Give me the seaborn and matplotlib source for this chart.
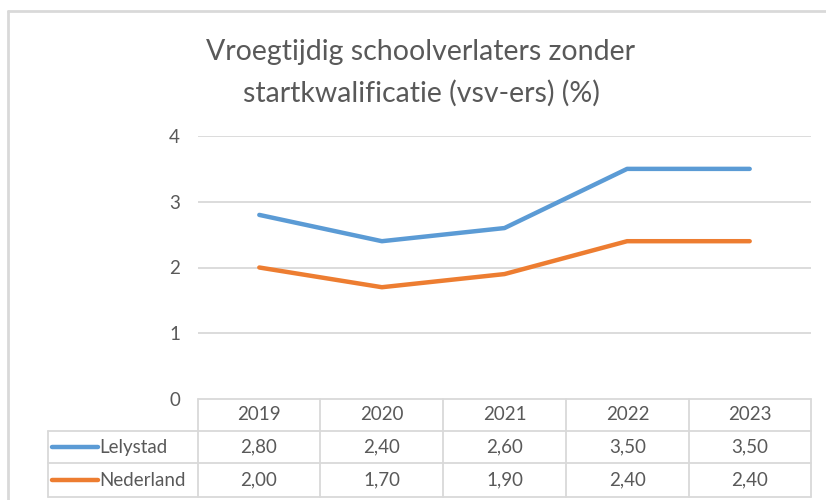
import matplotlib
matplotlib.use("Agg")
import matplotlib.pyplot as plt
from matplotlib.lines import Line2D
import seaborn as sns
import pandas as pd

years = ["2019", "2020", "2021", "2022", "2023"]
lelystad = [2.80, 2.40, 2.60, 3.50, 3.50]
nederland = [2.00, 1.70, 1.90, 2.40, 2.40]
series_names = ["Lelystad", "Nederland"]
title_lines = ["Vroegtijdig schoolverlaters zonder", "startkwalificatie (vsv-ers) (%)"]
yticks = [0, 1, 2, 3, 4]

colors = ["#5B9BD5", "#ED7D31"]
grid_c = "#D9D9D9"
text_c = "#595959"
FONT = "Lato"

sns.set_theme(style="white")
plt.rcParams["font.family"] = [FONT, "DejaVu Sans"]

W, H = 826, 500
fig = plt.figure(figsize=(W / 100, H / 100), dpi=100)

def fx(x):
    return x / W

def fy(y):
    return 1 - y / H

# plot area
x0, x1 = 198, 811
y_top, y_bot = 136, 399
ax = fig.add_axes([fx(x0), fy(y_bot), fx(x1) - fx(x0), fy(y_top) - fy(y_bot)])

df = pd.DataFrame({
    "Jaar": years * 2,
    "Waarde": lelystad + nederland,
    "Reeks": [series_names[0]] * len(years) + [series_names[1]] * len(years),
})
sns.lineplot(data=df, x="Jaar", y="Waarde", hue="Reeks", palette=colors,
             sort=False, linewidth=3.2, ax=ax, legend=False)
for ln in ax.lines:
    ln.set_solid_joinstyle("round")
    ln.set_solid_capstyle("round")

ax.set_xlim(-0.5, len(years) - 0.5)
ax.set_ylim(0, 4)
ax.set_yticks(yticks)
ax.set_yticklabels([str(t) for t in yticks], color=text_c, fontsize=13.5)
ax.tick_params(axis="y", length=0, pad=13)
ax.set_xticks([])
ax.set_xlabel("")
ax.set_ylabel("")
for s in ax.spines.values():
    s.set_visible(False)
for t in yticks[1:]:
    ax.axhline(t, color=grid_c, lw=1.3, zorder=0)

# title
fig.text(fx(421), fy(52), title_lines[0], ha="center", va="center",
         fontsize=20.5, color=text_c)
fig.text(fx(421), fy(93), title_lines[1], ha="center", va="center",
         fontsize=20.5, color=text_c)

# chart border
fig.add_artist(Line2D([fx(8), fx(8)], [fy(11), fy(500)], color=grid_c, lw=2))
fig.add_artist(Line2D([fx(8), fx(826)], [fy(11), fy(11)], color=grid_c, lw=2))

# data table
col_edges = [198, 320, 443, 566, 689, 811]
row_edges = [399, 431, 463, 497]
leg_left = 48

def hline(y, xa, xb):
    fig.add_artist(Line2D([fx(xa), fx(xb)], [fy(y), fy(y)], color=grid_c, lw=1.3))

def vline(x, ya, yb):
    fig.add_artist(Line2D([fx(x), fx(x)], [fy(ya), fy(yb)], color=grid_c, lw=1.3))

hline(row_edges[0], col_edges[0], col_edges[-1])
for y in row_edges[1:]:
    hline(y, leg_left, col_edges[-1])
vline(leg_left, row_edges[1], row_edges[-1])
for x in col_edges:
    vline(x, row_edges[0], row_edges[-1])

def fmt(v):
    return f"{v:.2f}".replace(".", ",")

FS = 13.5
for i, yr in enumerate(years):
    cx = (col_edges[i] + col_edges[i + 1]) / 2
    fig.text(fx(cx), fy((row_edges[0] + row_edges[1]) / 2), yr,
             ha="center", va="center", fontsize=FS, color=text_c)
    for r, vals in enumerate([lelystad, nederland]):
        cy = (row_edges[r + 1] + row_edges[r + 2]) / 2
        fig.text(fx(cx), fy(cy), fmt(vals[i]), ha="center", va="center",
                 fontsize=FS, color=text_c)

for r, name in enumerate(series_names):
    cy = (row_edges[r + 1] + row_edges[r + 2]) / 2
    fig.add_artist(Line2D([fx(52), fx(98)], [fy(cy), fy(cy)], color=colors[r],
                          lw=3.2, solid_capstyle="round"))
    fig.text(fx(99), fy(cy), name, ha="left", va="center", fontsize=FS, color=text_c)

fig.savefig("out.png", dpi=100, facecolor="white")
